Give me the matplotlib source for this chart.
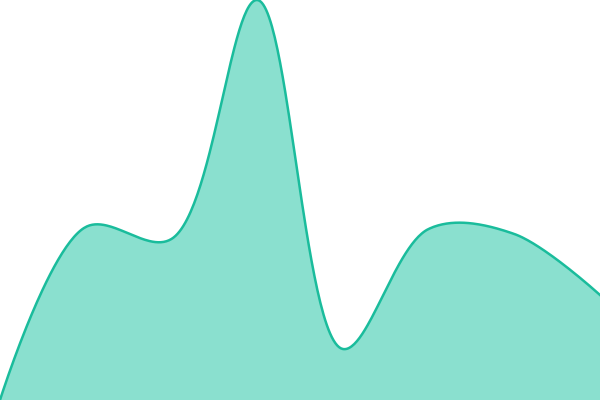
import numpy as np
import matplotlib
matplotlib.use('Agg')
import matplotlib.pyplot as plt

# values (0 = bottom, 400 = top)
idx = [0, 1, 2, 3, 4, 5, 6, 7]
values = [0, 173, 161, 400, 51, 171, 166, 105]

W, H = 600, 400


def catmull_rom(xs, ys, alpha=0.5, n=60):
    # centripetal catmull-rom, worked out in pixel space like d3's curveCatmullRom
    P = np.column_stack([xs, ys]).astype(float)
    P = np.vstack([P[0], P, P[-1]])
    out = []
    t = np.linspace(0, 1, n)[:, None]
    for i in range(1, len(P) - 2):
        p0, p1, p2, p3 = P[i - 1], P[i], P[i + 1], P[i + 2]
        l01 = np.linalg.norm(p1 - p0) ** alpha
        l12 = np.linalg.norm(p2 - p1) ** alpha
        l23 = np.linalg.norm(p3 - p2) ** alpha
        c1, c2 = p1.copy(), p2.copy()
        if l01 > 1e-12:
            a = 2 * l01**2 + 3 * l01 * l12 + l12**2
            c1 = (p1 * a - p0 * l12**2 + p2 * l01**2) / (3 * l01 * (l01 + l12))
        if l23 > 1e-12:
            b = 2 * l23**2 + 3 * l23 * l12 + l12**2
            c2 = (p2 * b + p1 * l23**2 - p3 * l12**2) / (3 * l23 * (l23 + l12))
        seg = ((1 - t)**3) * p1 + 3 * ((1 - t)**2) * t * c1 + 3 * (1 - t) * t**2 * c2 + t**3 * p2
        out.append(seg)
    out = np.vstack(out)
    return out[:, 0], out[:, 1]


px = np.array(idx) * W / (len(idx) - 1)
sx, sy = catmull_rom(px, values)

fig = plt.figure(figsize=(6, 4), dpi=100)
ax = fig.add_axes([0, 0, 1, 1])
ax.fill_between(sx, sy, 0, color='#8ae0cf', linewidth=0)
ax.plot(sx, sy, color='#1abc9c', linewidth=1.8)
ax.set_xlim(0, W)
ax.set_ylim(0, H)
ax.axis('off')
fig.savefig('out.png', dpi=100)
